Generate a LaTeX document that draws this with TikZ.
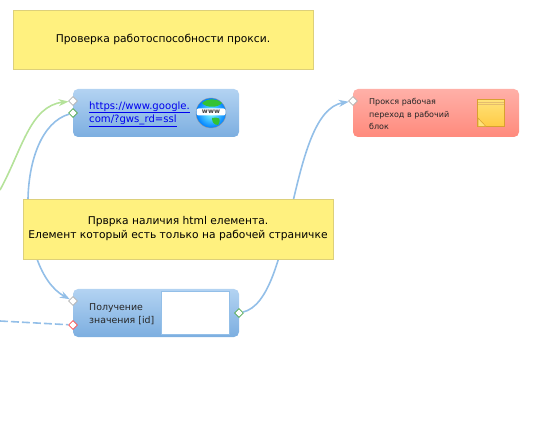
\documentclass[tikz,border=0pt]{standalone}
\usepackage{fontspec}
\setmainfont{DejaVu Sans}
\usepackage{xcolor}
\usetikzlibrary{shapes.geometric,arrows.meta}
\definecolor{notefill}{HTML}{FFF17F}
\definecolor{noteedge}{HTML}{DDD07A}
\definecolor{bluetop}{HTML}{B3D3F2}
\definecolor{bluebot}{HTML}{7CAEE0}
\definecolor{redtop}{HTML}{FFB0A8}
\definecolor{redbot}{HTML}{FF8A7C}
\definecolor{linkblue}{HTML}{0000EE}
\definecolor{wireblue}{HTML}{93BFE8}
\definecolor{wiregreen}{HTML}{B5E29A}
\definecolor{stickyedge}{HTML}{D9A030}
\definecolor{stickytop}{HTML}{FFE27A}
\definecolor{stickybot}{HTML}{FFCB45}

\begin{document}
\begin{tikzpicture}[
  x=1pt,y=-1pt,
  note/.style={rectangle,draw=noteedge,fill=notefill,line width=0.7pt,inner sep=0pt,align=center,font=\fontsize{10.7}{14}\selectfont,text=black},
  block/.style={rectangle,rounded corners=5pt,top color=bluetop,bottom color=bluebot,inner sep=0pt,minimum width=166pt,minimum height=48pt},
  redblock/.style={block,top color=redtop,bottom color=redbot},
  label/.style={inner sep=0pt,align=left,anchor=west,text=black!85},
  port/.style={diamond,draw=#1,fill=white,line width=0.8pt,inner sep=0pt,minimum size=9pt},
  wire/.style={wireblue,line width=1.6pt},
  tip/.style={-{Stealth[length=10pt,width=7pt]}}
]
  \useasboundingbox (0,0) rectangle (547,433);

  \coordinate (greenstart) at (0,190);
  \coordinate (dashstart) at (0,321);

  \node[block] (web) at (156,113) {};
  \node[block] (value) at (156,313) {};
  \node[redblock] (proxy) at (436,113) {};

  \node[port=black!30] (webin) at (73,101) {};
  \node[port=black!30] (valuein) at (73,301) {};
  \node[port=black!30] (proxyin) at (353,101) {};
  \node[port=green!50!black!70] (webout) at (73,113) {};
  \node[port=green!50!black!70] (valueout) at (239,313) {};
  \node[port=red!70] (valueerr) at (73,325) {};

  \draw[wire,wiregreen,tip] (greenstart) .. controls (22,150) and (30,106) .. (webin);
  \draw[wire,tip] (webout) .. controls (14,130) and (16,270) .. (valuein);
  \draw[wire,tip] (valueout) .. controls (295,300) and (288,112) .. (proxyin);
  \draw[wire,dash pattern=on 8pt off 3pt] (dashstart) -- (valueerr);

  % notes sit over the wires
  \node[note,minimum width=300pt,minimum height=59pt] (title) at (163,39.5) {Проверка работоспособности прокси.};
  \node[note,minimum width=310pt,minimum height=60pt] (check) at (178,229) {Прврка наличия html елемента.\\Елемент который есть только на рабочей страничке};

  \node[label,font=\fontsize{10.1}{13}\selectfont,text=linkblue] (weblink) at (89,114) {\underline{https://www.google.}\\\underline{com/?gws\_rd=ssl}};
  \node[label,font=\fontsize{9.4}{13}\selectfont] (valuetext) at (89,314) {Получение\\значения [id]};
  \node[label,font=\fontsize{8}{12.5}\selectfont] (proxytext) at (369,114) {Прокся рабочая\\переход в рабочий\\блок};

  \node[rectangle,draw=wireblue,fill=white,line width=0.6pt,minimum width=68pt,minimum height=43pt,inner sep=0pt] (valuebox) at (195.5,312.5) {};

  % globe icon
  \node[circle,draw=black!40,inner color=cyan!50,outer color=blue!50!cyan,minimum size=30pt,inner sep=0pt] (globe) at (211,113) {};
  \fill[green!70!black!80] (202,103) .. controls (208,98) and (216,98) .. (222,103) .. controls (218,108) and (206,108) .. cycle;
  \fill[green!70!black!80] (212,118) .. controls (219,117) and (222,118) .. (218,125) .. controls (214,125) and (212,122) .. cycle;
  \node[rectangle,rounded corners=2pt,fill=white,minimum width=29pt,minimum height=7pt,inner sep=0pt,font=\fontsize{6.5}{7}\bfseries\selectfont,text=black!75] (globetext) at (211,112) {www};

  % sticky note icon
  \node[rectangle,draw=stickyedge,top color=stickytop,bottom color=stickybot,line width=0.8pt,minimum width=27pt,minimum height=27pt,inner sep=0pt] (sticky) at (491,113) {};
  \draw[stickyedge!70,line width=0.5pt] (478,102) -- (504,102);
  \draw[stickyedge!70,line width=0.5pt] (478,104) -- (504,104);
  \fill[stickytop,draw=stickyedge,line width=0.5pt] (478,118) -- (486,126.5) -- (478,126.5) -- cycle;
\end{tikzpicture}
\end{document}
